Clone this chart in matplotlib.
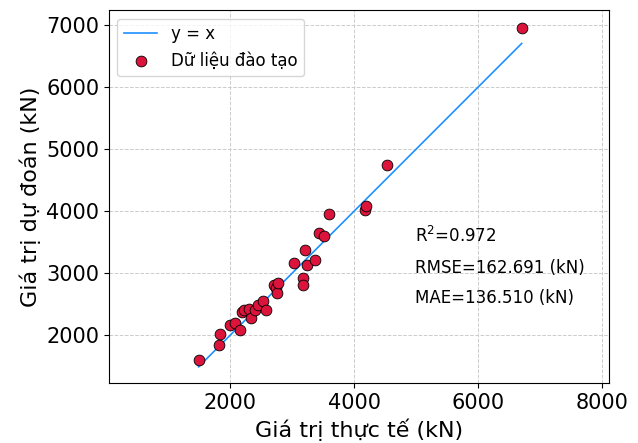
import matplotlib
matplotlib.use("Agg")
import matplotlib.pyplot as plt
import numpy as np

actual = [1490, 1827, 1834, 2000, 2081, 2161, 2189, 2231, 2296, 2339, 2404, 2447,
          2528, 2577, 2700, 2743, 2754, 2780, 3034, 3212, 3239, 3368, 3174, 3174,
          3427, 3519, 3588, 4170, 4197, 4536, 6705]
predicted = [1608, 1834, 2020, 2161, 2198, 2092, 2380, 2414, 2430, 2270, 2414, 2484,
             2553, 2414, 2806, 2760, 2680, 2834, 3166, 3382, 3129, 3210, 2930, 2806,
             3650, 3597, 3952, 4016, 4085, 4742, 6950]
metrics_text = ["R$^2$=0.972", "RMSE=162.691 (kN)", "MAE=136.510 (kN)"]

fig = plt.figure(figsize=(6.38, 4.43), dpi=100)
ax = fig.add_axes([0.171, 0.135, 0.784, 0.842])

lo, hi = min(actual), max(actual)
ax.plot([lo, hi], [lo, hi], color='dodgerblue', lw=1.2, label='y = x', zorder=2)
ax.scatter(actual, predicted, s=60, color='crimson', edgecolors='black',
           linewidths=0.6, label='Dữ liệu đào tạo', zorder=3)

ax.set_xlim(46, 8119)
ax.set_ylim(1226, 7242)
ax.grid(True, linestyle='--', color='#cccccc', linewidth=0.7)
ax.set_axisbelow(True)
ax.set_xticks([2000, 4000, 6000, 8000])
ax.set_yticks([2000, 3000, 4000, 5000, 6000, 7000])
ax.tick_params(labelsize=15)
ax.set_xlabel('Giá trị thực tế (kN)', fontsize=16)
ax.set_ylabel('Giá trị dự đoán (kN)', fontsize=16)
ax.legend(loc='upper left', fontsize=12)

ys = [0.394, 0.308, 0.228]
for t, yy in zip(metrics_text, ys):
    ax.text(0.612, yy, t, transform=ax.transAxes, fontsize=12, va='center')

fig.savefig('out.png', dpi=100)
